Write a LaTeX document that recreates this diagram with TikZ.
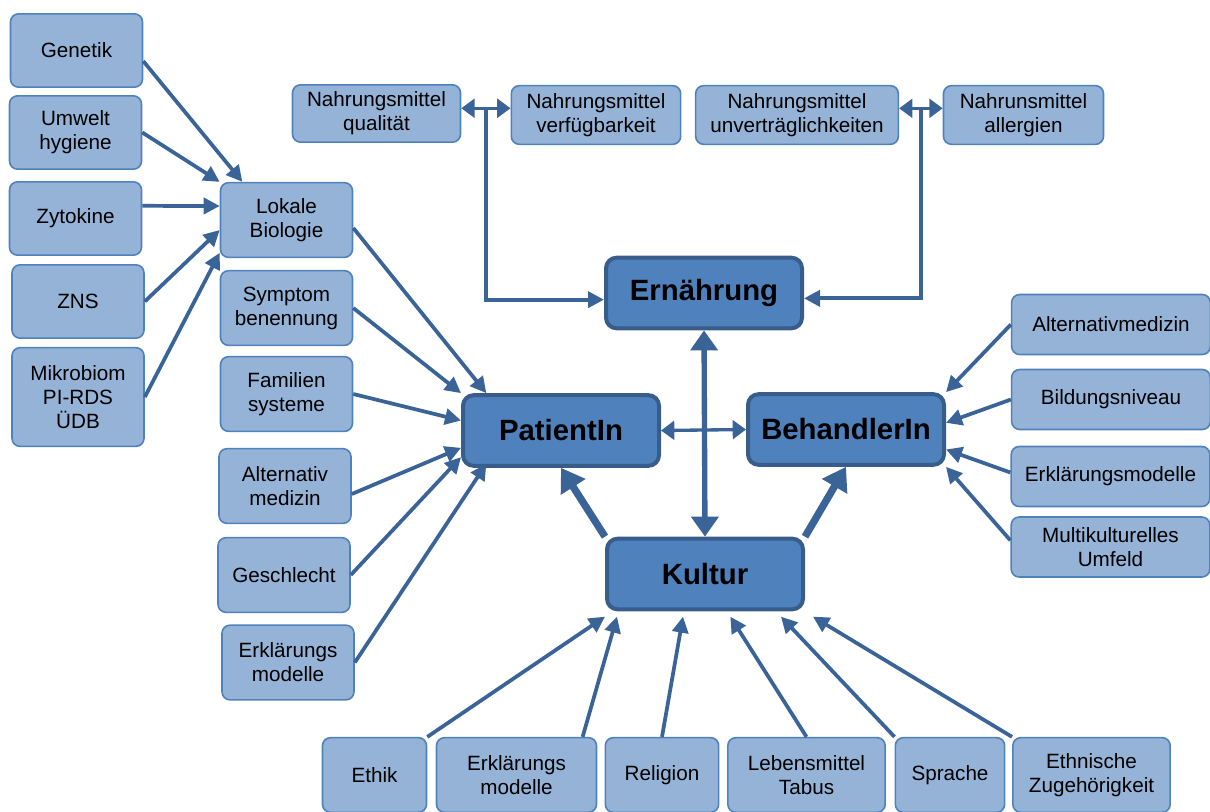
\documentclass[tikz,border=0pt]{standalone}
\usepackage{fontspec}
\setmainfont{Liberation Sans}
\usetikzlibrary{arrows.meta,calc}
\definecolor{boxfill}{HTML}{95B3D7}
\definecolor{boxline}{HTML}{4F81BD}
\definecolor{hubfill}{HTML}{4F81BD}
\definecolor{hubline}{HTML}{385D8A}
\definecolor{arrowcol}{HTML}{3A6397}

\begin{document}
\begin{tikzpicture}[x=0.75pt,y=-0.75pt,
  sub/.style={draw=boxline,fill=boxfill,line width=1.2pt,rounded corners=6pt,
    align=center,inner sep=0pt,font=\fontsize{15.5}{18}\selectfont},
  hub/.style={draw=hubline,fill=hubfill,line width=3pt,rounded corners=8pt,
    align=center,inner sep=0pt,minimum width=147pt,minimum height=53pt,
    font=\fontsize{22}{26}\selectfont\bfseries},
  arr/.style={draw=arrowcol,line width=2.8pt,-{Triangle[length=12pt,width=12pt]}},
  dblarr/.style={draw=arrowcol,line width=2.5pt,
    {Triangle[length=10pt,width=14pt]}-{Triangle[length=10pt,width=14pt]}},
  bigarr/.style={draw=arrowcol,line width=5.5pt,-{Triangle[length=17pt,width=21pt]}},
  vertarr/.style={draw=arrowcol,line width=4pt,
    {Triangle[length=15pt,width=20pt]}-{Triangle[length=15pt,width=20pt]}}]

  \useasboundingbox (0,0) rectangle (1210,811);
  \clip (0,0) rectangle (1210,811);

  \node[sub,minimum width=99pt,minimum height=55pt] (genetik) at (76.5,50.5) {Genetik};
  \node[sub,minimum width=99pt,minimum height=55pt] (umwelt) at (75.5,132.5) {Umwelt\\hygiene};
  \node[sub,minimum width=99pt,minimum height=55pt] (zytokine) at (75.5,218.5) {Zytokine};
  \node[sub,minimum width=99pt,minimum height=55pt] (zns) at (78,301.5) {ZNS};
  \node[sub,minimum width=99pt,minimum height=74pt] (mikrobiom) at (78,397) {Mikrobiom\\PI-RDS\\ÜDB};

  \node[sub,minimum width=99pt,minimum height=56pt] (lokale) at (286.5,220) {Lokale\\Biologie};
  \node[sub,minimum width=99pt,minimum height=56pt] (symptom) at (286.5,308) {Symptom\\benennung};
  \node[sub,minimum width=99pt,minimum height=56pt] (familien) at (286.5,394) {Familien\\systeme};
  \node[sub,minimum width=99pt,minimum height=56pt] (altmedP) at (285,486) {Alternativ\\medizin};
  \node[sub,minimum width=99pt,minimum height=56pt] (geschlecht) at (284,575) {Geschlecht};
  \node[sub,minimum width=99pt,minimum height=56pt] (erklP) at (288,662.5) {Erklärungs\\modelle};

  \node[sub,minimum width=126pt,minimum height=43pt] (qual) at (376.5,113.5) {Nahrungsmittel\\qualität};
  \node[sub,minimum width=127pt,minimum height=44pt] (verf) at (596,115) {Nahrungsmittel\\verfügbarkeit};
  \node[sub,minimum width=152pt,minimum height=44pt] (unvert) at (797,115) {Nahrungsmittel\\unverträglichkeiten};
  \node[sub,minimum width=120pt,minimum height=44pt] (allerg) at (1023.5,115) {Nahrunsmittel\\allergien};

  \node[hub] (ern) at (704,293) {Ernährung};
  \node[hub] (pat) at (561,430.5) {PatientIn};
  \node[hub] (beh) at (846,429.5) {BehandlerIn};
  \node[hub] (kul) at (705,574) {Kultur};

  \node[sub,minimum width=149pt,minimum height=45pt] (altmedB) at (1111,324.5) {Alternativmedizin};
  \node[sub,minimum width=149pt,minimum height=45pt] (bildung) at (1111,399.5) {Bildungsniveau};
  \node[sub,minimum width=149pt,minimum height=45pt] (erklB) at (1110.5,476.5) {Erklärungsmodelle};
  \node[sub,minimum width=149pt,minimum height=45pt] (multi) at (1110.5,547) {Multikulturelles\\Umfeld};

  \node[sub,minimum width=78pt,minimum height=56pt] (ethik) at (374.5,775) {Ethik};
  \node[sub,minimum width=120pt,minimum height=56pt] (erklK) at (516.5,775) {Erklärungs\\modelle};
  \node[sub,minimum width=85pt,minimum height=56pt] (religion) at (662,775) {Religion};
  \node[sub,minimum width=118pt,minimum height=56pt] (tabus) at (806.5,775) {Lebensmittel\\Tabus};
  \node[sub,minimum width=82pt,minimum height=56pt] (sprache) at (950,775) {Sprache};
  \node[sub,minimum width=118pt,minimum height=56pt] (ethnie) at (1091.5,775) {Ethnische\\Zugehörigkeit};

  \draw[arr] ([yshift=-8pt]genetik.east) -- ([xshift=17pt]lokale.north west);
  \draw[arr] (umwelt.east) -- (lokale.north west);
  \draw[arr] ([yshift=9.5pt]zytokine.east) -- ([yshift=10.5pt]lokale.west);
  \draw[arr] (zns.east) -- ([yshift=-7.5pt]lokale.west);
  \draw[arr] (mikrobiom.east) -- ([yshift=4pt]lokale.south west);

  \draw[arr] ([yshift=-6pt]lokale.east) -- ([xshift=19pt]pat.north west);
  \draw[arr] (symptom.east) -- (pat.north west);
  \draw[arr] (familien.east) -- ([yshift=7.5pt]pat.west);
  \draw[arr] ([yshift=-6pt]altmedP.east) -- ([yshift=-13pt]pat.west);
  \draw[arr] (geschlecht.east) -- ([yshift=8pt]pat.south west);
  \draw[arr] (erklP.east) -- ([xshift=19pt,yshift=3pt]pat.south west);

  \coordinate[yshift=4.5pt] (qv) at ($(qual.east)!0.5!(verf.west)$);
  \draw[dblarr] (qual.east |- qv) -- (verf.west |- qv);
  \draw[arr] (qv) |- ([yshift=-5pt]ern.west);
  \coordinate[yshift=5pt] (ua) at ($(unvert.east)!0.5!(allerg.west)$);
  \draw[dblarr] (unvert.east |- ua) -- (allerg.west |- ua);
  \draw[arr] (ua) |- ([yshift=-4pt]ern.east);

  \draw[vertarr] (ern.south) -- (kul.north);
  \draw[dblarr] (pat.east) -- (beh.west);
  \draw[bigarr] (kul.north west) -- (pat.south);
  \draw[bigarr] (kul.north east) -- (beh.south);

  \draw[arr] (altmedB.west) -- (beh.north east);
  \draw[arr] (bildung.west) -- ([yshift=5pt]beh.east);
  \draw[arr] ([yshift=3pt]erklB.west) -- ([yshift=-15pt]beh.east);
  \draw[arr] ([yshift=5pt]multi.west) -- (beh.south east);

  \draw[arr] (ethik.north east) -- ([yshift=-4pt]kul.south west);
  \draw[arr] ([xshift=-11pt]erklK.north east) -- ([xshift=9pt,yshift=-4pt]kul.south west);
  \draw[arr] (religion.north) -- ([xshift=-16.5pt,yshift=-4pt]kul.south);
  \draw[arr] (tabus.north) -- ([xshift=19pt,yshift=-4pt]kul.south);
  \draw[arr] (sprache.north west) -- ([xshift=57pt,yshift=-4pt]kul.south);
  \draw[arr] (ethnie.north west) -- ([xshift=6pt,yshift=-4pt]kul.south east);
\end{tikzpicture}
\end{document}
